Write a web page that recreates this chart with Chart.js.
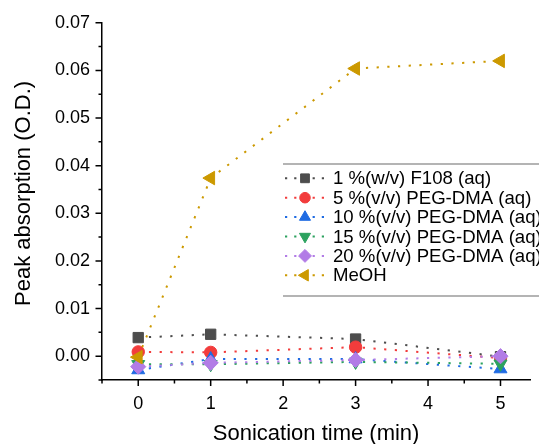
<!DOCTYPE html>
<html>
<head>
<meta charset="utf-8">
<script src="https://cdn.jsdelivr.net/npm/chart.js@4/dist/chart.umd.min.js"></script>
<style>
  html, body { margin: 0; padding: 0; background: #ffffff; overflow: hidden; }
  canvas { display: block; }
</style>
</head>
<body>
<canvas id="chart" width="539" height="444"></canvas>
<script>
// Sonication time (min)
const sonicationTimes = [0, 1, 3, 5];

// Peak absorption (O.D.) for each dispersion medium
const seriesLabels = [
  '1 %(w/v) F108 (aq)',
  '5 %(v/v) PEG-DMA (aq)',
  '10 %(v/v) PEG-DMA (aq)',
  '15 %(v/v) PEG-DMA (aq)',
  '20 %(v/v) PEG-DMA (aq)',
  'MeOH'
];
const f108     = [0.0039, 0.0046, 0.0036, -0.0001];
const pegDma5  = [0.0009, 0.0008, 0.0019, -0.0004];
const pegDma10 = [-0.0029, -0.0006, -0.0006, -0.0027];
const pegDma15 = [-0.0017, -0.0017, -0.0012, -0.0016];
const pegDma20 = [-0.0022, -0.0014, -0.0008, 0.0000];
const meoh     = [-0.0002, 0.0374, 0.0604, 0.0620];

// Labelled axis ticks
const xTickValues = [0, 1, 2, 3, 4, 5];
const yTickValues = [0, 0.01, 0.02, 0.03, 0.04, 0.05, 0.06, 0.07];

const yAxisTitle = 'Peak absorption (O.D.)';

const FONT = "'Liberation Sans', Arial, sans-serif";

const seriesValues = [f108, pegDma5, pegDma10, pegDma15, pegDma20, meoh];
const styles = [
  { color: '#4d4d4d', pointStyle: 'rect',     radius: 7.3, rotation: 0 },
  { color: '#f23c3c', pointStyle: 'circle',   radius: 6.2, rotation: 0 },
  { color: '#1f6be3', pointStyle: 'triangle', radius: 7.5, rotation: 0 },
  { color: '#2ca25f', pointStyle: 'triangle', radius: 7.5, rotation: 180 },
  { color: '#b27ce6', pointStyle: 'rectRot',  radius: 7.6, rotation: 0 },
  { color: '#cc9900', pointStyle: 'triangle', radius: 7.8, rotation: 270 }
];

const datasets = seriesValues.map((vals, i) => ({
  label: seriesLabels[i],
  data: sonicationTimes.map((t, j) => ({ x: t, y: vals[j] })),
  borderColor: styles[i].color,
  backgroundColor: styles[i].color,
  borderWidth: 2,
  borderDash: [2.2, 8.5],
  pointStyle: styles[i].pointStyle,
  pointRadius: styles[i].radius,
  pointRotation: styles[i].rotation,
  pointBorderWidth: 1,
  pointBackgroundColor: styles[i].color,
  pointBorderColor: styles[i].color,
  tension: 0,
  clip: false,
  // later series are painted over earlier ones
  order: seriesValues.length - i
}));

// Major and minor tick marks on the outside of both axes
const axisTicks = {
  id: 'axisTicks',
  afterDraw(chart) {
    const { ctx, chartArea, scales } = chart;
    const x = scales.x, y = scales.y;
    ctx.save();
    ctx.strokeStyle = '#000';
    ctx.lineWidth = 1.5;
    ctx.beginPath();
    const xMinor = xTickValues.map(v => v - 0.5);
    xTickValues.forEach(v => {
      const px = x.getPixelForValue(v);
      ctx.moveTo(px, chartArea.bottom); ctx.lineTo(px, chartArea.bottom + 6);
    });
    xMinor.forEach(v => {
      const px = x.getPixelForValue(v);
      ctx.moveTo(px, chartArea.bottom); ctx.lineTo(px, chartArea.bottom + 3.5);
    });
    const yMinor = yTickValues.map(v => v - 0.005);
    yTickValues.forEach(v => {
      const py = y.getPixelForValue(v);
      ctx.moveTo(chartArea.left, py); ctx.lineTo(chartArea.left - 6.5, py);
    });
    yMinor.forEach(v => {
      const py = y.getPixelForValue(v);
      ctx.moveTo(chartArea.left, py); ctx.lineTo(chartArea.left - 3.5, py);
    });
    ctx.stroke();

    // vertical axis title, set a little above the plot's middle
    ctx.fillStyle = '#000';
    ctx.font = '22px ' + FONT;
    ctx.textAlign = 'center';
    ctx.textBaseline = 'middle';
    ctx.translate(23.5, (chartArea.top + chartArea.bottom) / 2 - 8);
    ctx.rotate(-Math.PI / 2);
    ctx.fillText(yAxisTitle, 0, 0);
    ctx.restore();
  }
};

// Legend box with a rule above and below the entries
const boxedLegend = {
  id: 'boxedLegend',
  afterDraw(chart) {
    const { ctx } = chart;
    const left = 283, right = 539, top = 164, bottom = 296;
    const rowTop = 178.3, rowStep = 19.4;
    ctx.save();
    ctx.strokeStyle = '#b4b4b4';
    ctx.lineWidth = 2;
    ctx.beginPath();
    ctx.moveTo(left, top); ctx.lineTo(right, top);
    ctx.moveTo(left, bottom); ctx.lineTo(right, bottom);
    ctx.stroke();
    chart.data.datasets.forEach((ds, i) => {
      const yy = rowTop + i * rowStep;
      ctx.save();
      ctx.strokeStyle = ds.borderColor;
      ctx.lineWidth = 2;
      ctx.setLineDash([2.2, 7]);
      ctx.beginPath();
      ctx.moveTo(285, yy); ctx.lineTo(324, yy);
      ctx.stroke();
      ctx.restore();
      ctx.fillStyle = ds.pointBackgroundColor;
      ctx.strokeStyle = ds.pointBorderColor;
      ctx.lineWidth = 1;
      Chart.helpers.drawPoint(ctx, {
        pointStyle: ds.pointStyle,
        rotation: ds.pointRotation,
        radius: ds.pointRadius * 0.85,
        borderWidth: 1
      }, 305, yy);
      ctx.fillStyle = '#000';
      ctx.font = '18.6px ' + FONT;
      ctx.textBaseline = 'middle';
      ctx.textAlign = 'left';
      ctx.fillText(ds.label, 333, yy + 1);
    });
    ctx.restore();
  }
};

new Chart(document.getElementById('chart'), {
  type: 'line',
  data: { datasets },
  plugins: [axisTicks, boxedLegend],
  options: {
    responsive: false,
    animation: false,
    devicePixelRatio: 1,
    layout: { padding: { top: 21, right: 0, bottom: 0, left: 0 } },
    plugins: { legend: { display: false }, tooltip: { enabled: false } },
    scales: {
      x: {
        type: 'linear',
        min: -0.5,
        max: 5.41,
        afterFit(scale) { scale.height = 64; },
        afterBuildTicks(scale) { scale.ticks = xTickValues.map(v => ({ value: v })); },
        grid: { display: false, drawTicks: false },
        border: { display: true, color: '#000', width: 1.5 },
        ticks: {
          padding: 13,
          color: '#000',
          font: { family: FONT, size: 18 },
          maxRotation: 0,
          callback: v => String(v)
        },
        title: {
          display: true,
          text: 'Sonication time (min)',
          color: '#000',
          font: { family: FONT, size: 22, lineHeight: 0.95 },
          padding: { top: 0, bottom: 0 }
        }
      },
      y: {
        type: 'linear',
        min: -0.005,
        max: 0.07,
        afterFit(scale) { scale.width = 102; },
        afterBuildTicks(scale) { scale.ticks = yTickValues.map(v => ({ value: v })); },
        grid: { display: false, drawTicks: false },
        border: { display: true, color: '#000', width: 1.5 },
        ticks: {
          padding: 12,
          color: '#000',
          font: { family: FONT, size: 18 },
          callback: v => Number(v).toFixed(2)
        },
        title: { display: false }
      }
    }
  }
});
</script>
</body>
</html>
